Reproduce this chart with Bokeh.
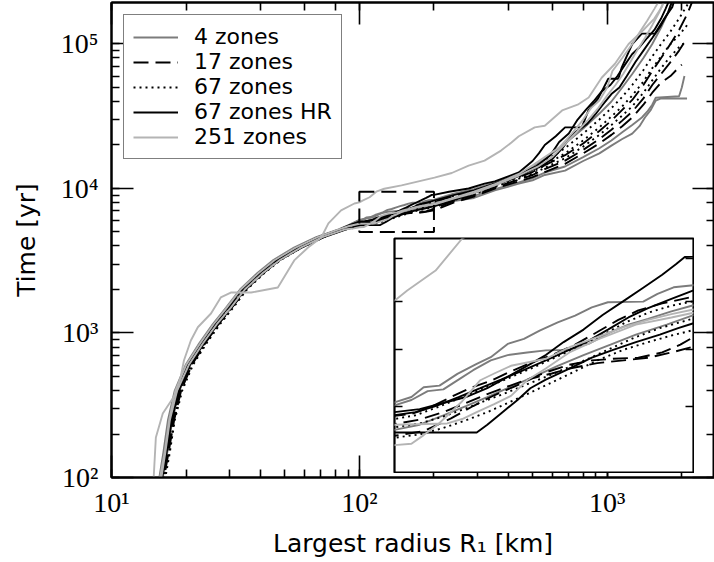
from bokeh.plotting import figure
from bokeh.models import LogAxis, FixedTicker, Range1d
from bokeh.layouts import column
from bokeh.embed import file_html
from bokeh.resources import INLINE

# ---------------- data ----------------
LABELS = ["4 zones", "17 zones", "67 zones", "67 zones HR", "251 zones"]

EARLY_T = [80, 100, 150, 250, 400, 600, 850, 1150, 1500, 2000, 2600, 3200, 3900, 4600, 5200]

# 4 zones
a1_r = [15.6, 16.1, 16.8, 17.6, 18.8, 20.8, 23.6, 26.8, 30.3, 34.5, 40.5, 47.5, 57.5, 70.5, 86,
        94, 100, 106, 112, 118, 124, 130, 138, 146, 155, 165, 175, 188, 200,
        240, 290, 352, 440, 500, 560, 676, 800, 930, 1040, 1150, 1262, 1350, 1420, 1500, 1570, 1650, 2100]
a1_t = EARLY_T + [5450, 5620, 5700, 5850, 6000, 6150, 6300, 6500, 6700, 6900, 7100, 7300, 7500, 7700,
                  8200, 8600, 9700, 10800, 11400, 12400, 13300, 15500, 17500, 19800, 22000, 24000, 27000,
                  31000, 35000, 40600, 42000, 42000]
a2_r = [15.2, 15.6, 16.2, 16.9, 18.0, 19.9, 22.6, 25.6, 29.0, 33.0, 38.8, 45.0, 54.5, 67.0, 82,
        91, 100, 104, 108, 112, 116, 120, 125, 130, 136, 142, 150, 157, 165, 172, 180, 190, 200,
        240, 290, 352, 440, 500, 560, 676, 800, 930, 1040, 1150, 1262, 1380, 1450, 1520, 1570, 1950, 2000, 2050]
a2_t = EARLY_T + [5600, 6010, 6100, 6250, 6280, 6450, 6620, 6800, 6900, 6950, 6990, 7000, 7120, 7350, 7500,
                  7620, 7780, 7910,
                  8400, 8900, 9900, 11000, 11800, 12900, 14200, 16500, 19000, 21500, 24500, 27500, 31000,
                  34000, 38000, 42500, 43500, 50000, 60000]
a3_r = [15.4, 15.9, 16.6, 17.3, 18.4, 20.3, 23.1, 26.1, 29.6, 33.6, 39.6, 46.2, 56.0, 68.5, 83,
        92, 100, 104, 107, 111, 115.7, 121, 125, 130, 135, 140, 146, 152, 158, 164, 178, 184, 191, 200,
        240, 290, 352, 440, 500, 560, 676, 800, 930, 1040, 1150, 1262, 1400, 1520, 1650, 1760, 1850]
a3_t = EARLY_T + [5650, 6060, 6150, 6316, 6345, 6553, 6734, 6860, 7115, 7213, 7379, 7549, 7688, 7866, 7976,
                  7990, 8160, 8310, 8356,
                  9200, 9900, 11000, 12600, 14000, 16000, 20500, 26000, 33000, 40000, 50000, 62000, 80000,
                  100000, 130000, 165000, 210000]

# 17 zones
b1_r = [15.5, 16.0, 16.7, 17.5, 18.6, 20.6, 23.4, 26.5, 30.0, 34.0, 40.0, 46.8, 56.8, 69.8, 85,
        93, 100, 104, 109, 114, 119, 125, 131, 137, 144, 152, 160, 168, 176, 186, 200,
        240, 290, 352, 440, 500, 560, 676, 800, 930, 1040, 1150, 1262, 1400, 1520, 1650, 1800, 1950, 2100, 2200]
b1_t = EARLY_T + [5500, 5840, 5870, 5990, 6150, 6300, 6430, 6600, 6750, 6900, 7100, 7350, 7600, 7800, 7950, 8100,
                  8800, 9500, 10600, 12000, 13000, 14500, 17000, 20500, 25000, 29500, 35000, 41000, 52000,
                  65000, 80000, 100000, 125000, 160000, 195000]
b2_r = [15.9, 16.3, 17.0, 17.9, 19.1, 21.1, 23.9, 27.0, 30.6, 34.8, 41.0, 47.8, 58.0, 71.0, 86,
        93, 100, 106, 112, 118, 124, 130, 136, 142, 150, 158, 166, 176, 186, 194, 200,
        240, 290, 352, 440, 500, 560, 676, 800, 930, 1040, 1150, 1262, 1400, 1520, 1650, 1800, 1950, 2100]
b2_t = EARLY_T + [5450, 5710, 5780, 5900, 6050, 6200, 6330, 6450, 6580, 6720, 6800, 6830, 6850, 6950, 7100, 7250,
                  8200, 9000, 10200, 11500, 12400, 13600, 15600, 18500, 22000, 25500, 29500, 34000, 42000,
                  52000, 62000, 75000, 90000, 110000]
b3_r = [15.7, 16.2, 16.9, 17.7, 18.9, 20.9, 23.7, 26.9, 30.5, 34.6, 40.8, 47.5, 57.8, 71.5, 87,
        94, 100, 107, 114, 120, 126, 132, 138, 144, 150, 160, 170, 180, 190, 200,
        240, 290, 352, 440, 500, 560, 676, 800, 930, 1040, 1150, 1262, 1400, 1520, 1650, 1800, 1900, 2000]
b3_t = EARLY_T + [5350, 5530, 5600, 5800, 6000, 6180, 6330, 6480, 6560, 6650, 6750, 6800, 6850, 6950, 7060,
                  8000, 8800, 10000, 11200, 12000, 13000, 14800, 17500, 20500, 23500, 27000, 31000, 38000,
                  46000, 54000, 60000, 66000, 72000]

# 67 zones
c1_r = [15.6, 16.1, 16.8, 17.4, 18.5, 20.4, 23.3, 26.3, 29.8, 33.8, 39.8, 46.4, 56.4, 69.2, 84,
        92, 100, 105, 110, 116, 122, 128, 134, 140, 147, 155, 163, 171, 180, 190, 200,
        240, 290, 352, 440, 500, 560, 676, 800, 930, 1040, 1150, 1262, 1400, 1520, 1650, 1800, 1950, 2100, 2150]
c1_t = EARLY_T + [5500, 5790, 5850, 5970, 6120, 6280, 6420, 6570, 6720, 6900, 7100, 7320, 7550, 7750, 7900, 8000,
                  8900, 9700, 10800, 12400, 13600, 15500, 19000, 24000, 30000, 36000, 43000, 52000, 66000,
                  82000, 100000, 122000, 150000, 185000, 200000]
c2_r = [16.0, 16.5, 17.2, 18.0, 19.3, 21.3, 24.2, 27.4, 31.0, 35.2, 41.4, 48.2, 58.4, 71.2, 86,
        93, 100, 106, 112, 118, 124, 130, 136, 142, 150, 158, 166, 175, 185, 200,
        240, 290, 352, 440, 500, 560, 676, 800, 930, 1040, 1150, 1262, 1400, 1520, 1650, 1800, 1950, 2100]
c2_t = EARLY_T + [5420, 5660, 5720, 5830, 5960, 6100, 6230, 6370, 6500, 6680, 6860, 7050, 7250, 7430, 7630,
                  8500, 9300, 10500, 12000, 13000, 14500, 17500, 21500, 26500, 31500, 37000, 44000, 55000,
                  68000, 82000, 100000, 115000, 135000]
c3_r = [15.8, 16.3, 17.1, 17.9, 19.0, 21.0, 23.9, 27.1, 30.7, 34.9, 41.1, 47.9, 58.2, 71.8, 87,
        94, 100, 106, 112, 118, 124, 130, 136, 144, 152, 160, 170, 180, 190, 200,
        240, 290, 352, 440, 500, 560, 676, 800, 930, 1040, 1150, 1262, 1400, 1520, 1650, 1800, 1950, 2100]
c3_t = EARLY_T + [5320, 5500, 5550, 5650, 5770, 5900, 6050, 6200, 6400, 6600, 6800, 7000, 7150, 7280, 7390,
                  8300, 9100, 10300, 11700, 12600, 13900, 16200, 19500, 23500, 27500, 32000, 37000, 46000,
                  56000, 68000, 82000, 95000, 105000]

# 67 zones HR
d1_r = [15.4, 15.9, 16.6, 17.3, 18.3, 20.2, 23.0, 26.0, 29.4, 33.4, 39.3, 45.8, 55.5, 68.0, 83,
        92, 100, 106, 112, 118, 124, 130, 136, 142, 148, 155, 162, 170, 178, 186, 192, 196, 200,
        230, 276, 320, 352, 440, 500, 530, 560, 620, 676, 790, 840, 920, 1010, 1110, 1145, 1262, 1380,
        1560, 1700, 1830, 1900]
d1_t = EARLY_T + [5600, 5900, 5950, 6050, 6150, 6300, 6500, 6700, 6900, 7150, 7400, 7700, 8000, 8300, 8600,
                  8850, 9030, 9040,
                  9500, 10000, 10800, 11200, 12900, 15500, 17500, 20000, 23000, 26500, 26500, 34700, 42000,
                  57500, 57500, 69000, 100000, 118000, 118000, 150000, 180000, 220000]
d2_r = [15.6, 16.0, 16.7, 17.5, 18.7, 20.7, 23.6, 26.8, 30.4, 34.6, 40.9, 47.8, 58.5, 72.0, 88,
        95, 100, 121, 124, 128, 133, 137, 142, 150, 158, 166, 175, 185, 193, 200,
        240, 290, 352, 440, 500, 530, 600, 660, 720, 830, 900, 960, 1040, 1120, 1200, 1300, 1400, 1520,
        1650, 1760, 1850]
d2_t = EARLY_T + [5400, 5580, 5580, 5700, 5880, 6100, 6300, 6450, 6650, 6850, 7000, 7150, 7300, 7430, 7530,
                  8300, 9300, 10600, 12200, 13500, 14000, 16000, 19000, 23500, 28000, 33000, 38000, 45000,
                  50000, 60000, 75000, 90000, 110000, 135000, 165000, 210000]
d3_r = [15.3, 15.8, 16.5, 17.2, 18.2, 20.1, 22.9, 25.9, 29.4, 33.4, 39.4, 45.9, 55.8, 68.4, 83,
        92, 100, 105, 110, 116, 122, 128, 134, 140, 148, 156, 164, 172, 180, 190, 200,
        240, 290, 352, 440, 520, 590, 640, 700, 760, 820, 880, 950, 1030, 1100, 1180, 1260, 1350, 1450,
        1550, 1650, 1720, 1800]
d3_t = EARLY_T + [5580, 5850, 5900, 6000, 6150, 6300, 6450, 6600, 6750, 6950, 7150, 7400, 7650, 7850, 8050, 8240,
                  9000, 9700, 10800, 12500, 14300, 17000, 21000, 24000, 30000, 35000, 40000, 47000, 52000,
                  60000, 72000, 85000, 95000, 110000, 125000, 150000, 175000, 210000]

# 251 zones
e1_r = [14.8, 14.8, 15.1, 16.1, 18.2, 19.0, 19.6, 20.9, 22.3, 25.2, 27.6, 30.3, 36.6, 46.9, 54.6, 62.1, 70.2,
        75, 84.4, 95.5, 100, 103, 110, 117, 126, 148, 201, 236, 276, 320, 373, 411, 440, 510, 560, 658, 760,
        842, 950, 1075, 1220, 1400, 1550, 1660, 1720]
e1_t = [80, 100, 189, 277, 381, 492, 645, 887, 1096, 1364, 1762, 1905, 1905, 2066, 3180, 3906, 4580,
        5730, 7050, 7870, 8010, 8237, 8700, 9500, 9960, 10500, 11900, 12800, 14400, 15600, 18300, 20800, 23000,
        26500, 27200, 34700, 38000, 42600, 58400, 73000, 100000, 125000, 150000, 180000, 210000]
e2_r = [15.5, 15.9, 16.5, 17.2, 18.4, 20.5, 23.4, 26.6, 30.3, 34.5, 40.8, 47.8, 58.0, 71.0, 87,
        95, 100, 104, 107, 110.5, 114, 117, 119.5, 122, 126, 131, 136, 142, 150, 160, 170, 180, 190, 200,
        240, 290, 352, 440, 500, 560, 640, 720, 800, 860, 930, 1000, 1050, 1150, 1262, 1350, 1450, 1550, 1650]
e2_t = EARLY_T + [5300, 5390, 5410, 5540, 5700, 5900, 6080, 6260, 6440, 6560, 6700, 6760, 6830, 7050, 7250,
                  7450, 7600, 7720, 7820,
                  8600, 9500, 10700, 12600, 14500, 16500, 19200, 24000, 30000, 36000, 40600, 50000, 65000,
                  80000, 100000, 120000, 145000, 175000, 210000]
e3_r = [15.2, 15.7, 16.4, 17.1, 18.1, 20.0, 22.8, 25.8, 29.2, 33.2, 39.2, 45.6, 55.3, 67.8, 82,
        91, 100, 113, 117, 121, 126, 131, 136, 142, 150, 160, 175, 190, 200,
        240, 290, 352, 440, 530, 600, 680, 760, 840, 920, 1000, 1080, 1160, 1240, 1320, 1420, 1520, 1620, 1720]
e3_t = EARLY_T + [5500, 5700, 5720, 5790, 5900, 6030, 6170, 6440, 6650, 6950, 7200, 7500, 7650, 7750,
                  8500, 9300, 10500, 12300, 14300, 16500, 20500, 25000, 30000, 36000, 44000, 52000, 62000,
                  75000, 90000, 110000, 135000, 165000, 210000]

SERIES = {
    "4 zones": [(a1_r, a1_t), (a2_r, a2_t), (a3_r, a3_t)],
    "17 zones": [(b1_r, b1_t), (b2_r, b2_t), (b3_r, b3_t)],
    "67 zones": [(c1_r, c1_t), (c2_r, c2_t), (c3_r, c3_t)],
    "67 zones HR": [(d1_r, d1_t), (d2_r, d2_t), (d3_r, d3_t)],
    "251 zones": [(e1_r, e1_t), (e2_r, e2_t), (e3_r, e3_t)],
}

X_RANGE = [10, 2710]
Y_RANGE = [100, 193700]
INSET_X = [100, 200]
INSET_Y = [5000, 9500]
INSET_YTICKS = [6000, 7000, 8000, 9000]
X_LABELS = {10: "10\u00b9", 100: "10\u00b2", 1000: "10\u00b3"}
Y_LABELS = {100: "10\u00b2", 1000: "10\u00b3", 10000: "10\u2074", 100000: "10\u2075"}

# ---------------- styles ----------------
STYLE = {
    "4 zones": dict(line_color="#7c7c7c", line_dash="solid"),
    "17 zones": dict(line_color="black", line_dash="15 7"),
    "67 zones": dict(line_color="black", line_dash="2 4"),
    "67 zones HR": dict(line_color="black", line_dash="solid"),
    "251 zones": dict(line_color="#b4b4b4", line_dash="solid"),
}
LW = 1.9
TICK_FONT = "Liberation Serif"
SANS = "DejaVu Sans"


def style_axis(ax, labels=True):
    ax.axis_line_width = 2
    ax.axis_line_color = "black"
    ax.major_tick_in = 22
    ax.major_tick_out = 0
    ax.minor_tick_in = 8
    ax.minor_tick_out = 0
    ax.major_tick_line_width = 1.6
    ax.minor_tick_line_width = 1.6
    ax.major_tick_line_color = "black"
    ax.minor_tick_line_color = "black"
    if labels:
        ax.major_label_text_font = TICK_FONT
        ax.major_label_text_font_size = "28px"
        ax.major_label_text_color = "black"
        ax.axis_label_text_font = SANS
        ax.axis_label_text_font_size = "25px"
        ax.axis_label_text_font_style = "normal"
        ax.axis_label_text_color = "black"
    else:
        ax.major_label_text_font_size = "1px"
        ax.major_label_text_alpha = 0
        ax.major_label_standoff = 0


p = figure(width=714, height=562, x_axis_type="log", y_axis_type="log",
           x_range=Range1d(*X_RANGE), y_range=Range1d(*Y_RANGE),
           output_backend="svg", toolbar_location=None,
           min_border_left=111, min_border_right=0, min_border_top=2, min_border_bottom=85)
p.frame_align = False
p.grid.visible = False
p.background_fill_color = "white"
p.border_fill_color = "white"
p.outline_line_color = "black"
p.outline_line_width = 2

style_axis(p.xaxis[0])
style_axis(p.yaxis[0])
p.xaxis[0].major_label_overrides = X_LABELS
p.yaxis[0].major_label_overrides = Y_LABELS
p.xaxis[0].major_label_standoff = 9
p.yaxis[0].major_label_standoff = 13
p.xaxis[0].axis_label = "Largest radius R\u2081 [km]"
p.yaxis[0].axis_label = "Time [yr]"
p.xaxis[0].axis_label_standoff = 8
p.yaxis[0].axis_label_standoff = 17

top_ax = LogAxis()
style_axis(top_ax, labels=False)
p.add_layout(top_ax, "above")
right_ax = LogAxis()
style_axis(right_ax, labels=False)
p.add_layout(right_ax, "right")

for lab in LABELS:
    for i, (r, t) in enumerate(SERIES[lab]):
        kw = dict(STYLE[lab])
        if i == 0:
            kw["legend_label"] = lab
        p.line(x=r, y=t, line_width=LW, **kw)

# dashed zoom rectangle
p.quad(left=[INSET_X[0]], right=[INSET_X[1]], bottom=[INSET_Y[0]], top=[INSET_Y[1]],
       fill_alpha=0, line_color="black", line_width=2, line_dash="15 7")

leg = p.legend[0]
leg.location = "top_left"
leg.margin = 12
leg.label_text_font = SANS
leg.label_text_font_size = "22px"
leg.label_text_color = "black"
leg.glyph_width = 45
leg.glyph_height = 20
leg.label_standoff = 16
leg.padding = 9
leg.spacing = 0
leg.border_line_color = "black"
leg.border_line_width = 1.5
leg.background_fill_alpha = 1.0

# ---------------- inset ----------------
ins = figure(width=301, height=236, x_axis_type="log", y_axis_type="log",
             x_range=Range1d(*INSET_X), y_range=Range1d(*INSET_Y),
             x_axis_location=None, y_axis_location="left",
             output_backend="svg", toolbar_location=None,
             min_border_left=1, min_border_right=1, min_border_top=1, min_border_bottom=1)
ins.frame_align = False
ins.grid.visible = False
ins.background_fill_color = "white"
ins.border_fill_color = "white"
ins.outline_line_color = "black"
ins.outline_line_width = 2.2


def style_inset_axis(ax):
    ax.ticker = FixedTicker(ticks=INSET_YTICKS, minor_ticks=[])
    ax.axis_line_color = None
    ax.major_tick_in = 8
    ax.major_tick_out = 0
    ax.major_tick_line_width = 1.6
    ax.major_tick_line_color = "black"
    ax.minor_tick_line_color = None
    ax.major_label_text_font_size = "1px"
    ax.major_label_text_alpha = 0
    ax.major_label_standoff = 0


style_inset_axis(ins.yaxis[0])
ins_r = LogAxis()
style_inset_axis(ins_r)
ins.add_layout(ins_r, "right")

for lab in LABELS:
    for (r, t) in SERIES[lab]:
        ins.line(x=r, y=t, line_width=LW, **STYLE[lab])

ins.margin = (-325, 0, 89, 393)

layout = column(p, ins)

open("out.html", "w").write(file_html(layout, INLINE))
